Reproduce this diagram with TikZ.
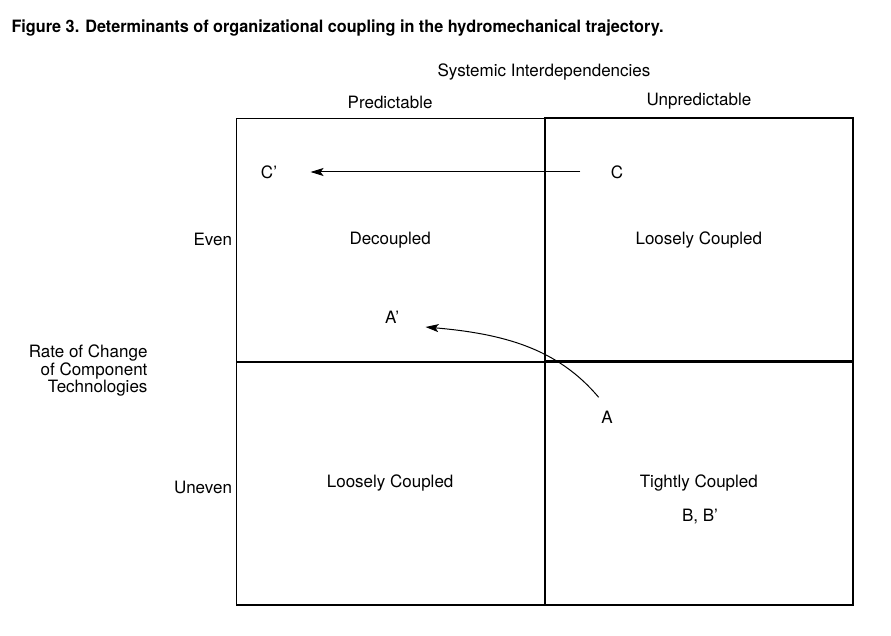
\documentclass[tikz,border=0pt]{standalone}
\usepackage{fontspec}
\setmainfont{TeX Gyre Heros}
\usepackage{graphicx}
\usetikzlibrary{positioning}
\usetikzlibrary{matrix}
\usetikzlibrary{arrows.meta}

\tikzset{
	move/.style={-{Stealth[length=13pt,width=8pt,inset=3pt]}, line width=1pt},
}

\begin{document}
\begin{tikzpicture}[x=1pt, y=-1pt, every node/.style={font=\fontsize{17}{17.5}\selectfont}]
				\useasboundingbox (0,0) rectangle (891,636);

				\node[anchor=west] (title) at (8,28)
					{\bfseries\scalebox{0.955}[1]{Figure 3. Determinants of organizational coupling in the hydromechanical trajectory.}};

				\matrix (grid) [
					matrix of nodes, nodes={draw, line width=1.3pt, minimum width=308pt, minimum height=243pt},
					column sep=-0.6pt, row sep=-0.6pt
				] at (544.5,361.5) {
					Decoupled		& Loosely Coupled	\\
					Loosely Coupled	& Tightly Coupled	\\
				};

				\node also [label={[name=pred, label distance=5pt]above:Predictable}, label={[name=even]left:Even}] (grid-1-1) {};
				\node also [label={[name=unpred, label distance=5pt]above:Unpredictable}] (grid-1-2) {};
				\node also [label={[name=uneven, yshift=-4pt]left:Uneven}] (grid-2-1) {};

				\node (sysint) at (544,72) {Systemic Interdependencies};
				\node[anchor=east, align=right] (rate) at (151,371) {Rate of Change\\of Component\\Technologies};

				\node (c) at (617,172) {C};
				\node (cp) at (269,172) {C’};
				\node (ap) at (392,317) {A’};
				\node (a) at (607,417) {A};
				\node (bb) at (700,517) {B, B’};

				\draw[move, shorten <=27pt, shorten >=30pt] (c.west) -- (c.west -| cp.east);
				\draw[move, shorten <=13pt] (a.north) to[out=130, in=-5] ([xshift=23pt, yshift=-10pt]ap.east);
			\end{tikzpicture}
\end{document}
